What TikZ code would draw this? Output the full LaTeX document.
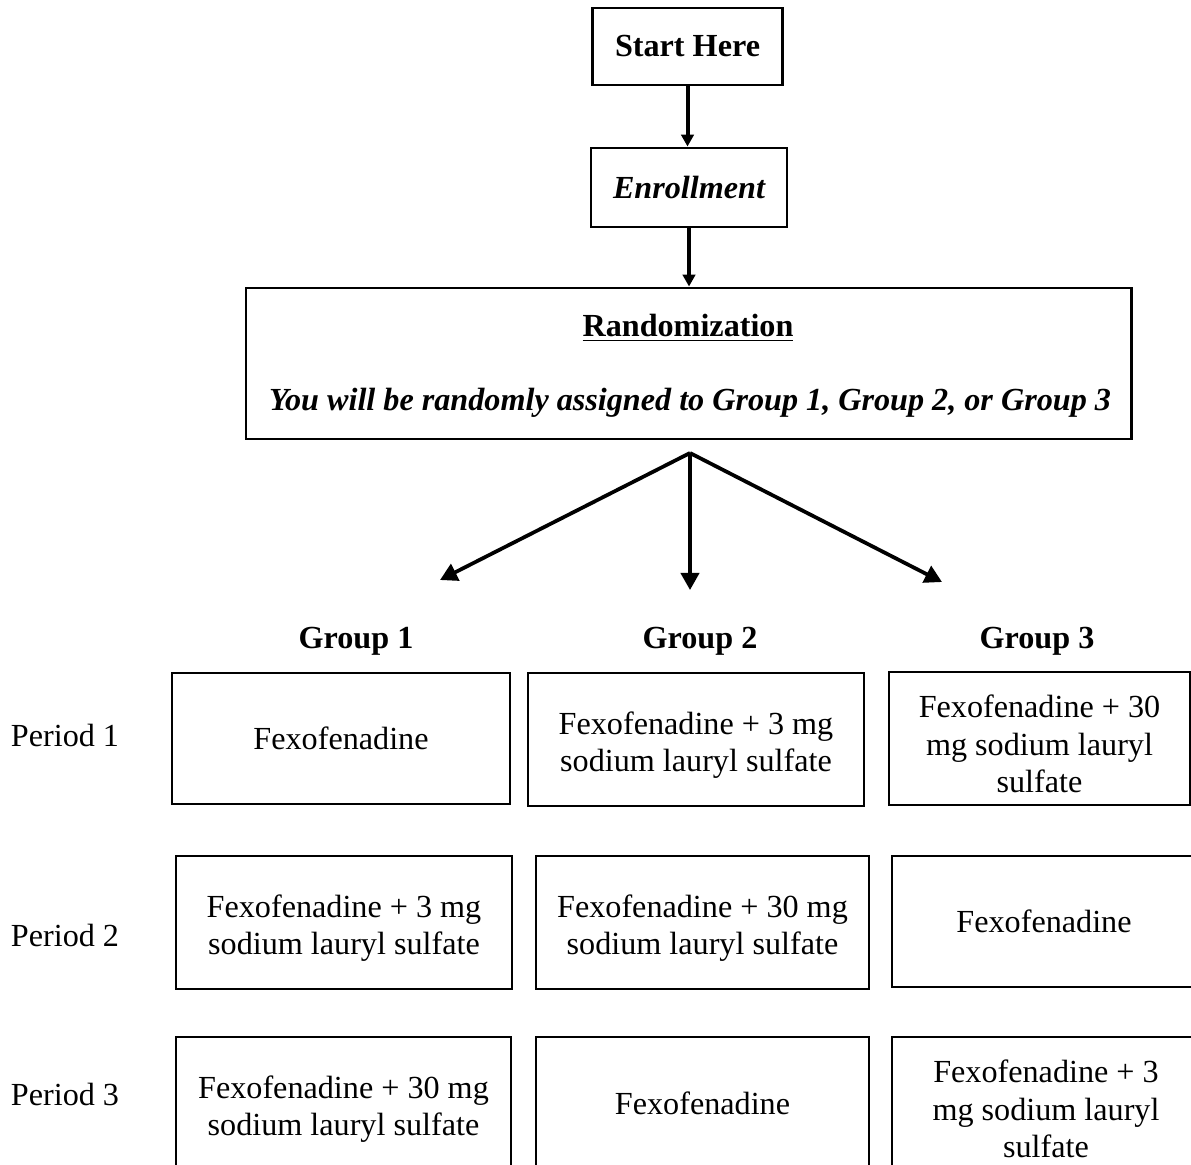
\documentclass[tikz,border=0pt]{standalone}
\usepackage{fontspec}
\setmainfont{Liberation Serif}
\usepackage{tikz}
\usetikzlibrary{arrows.meta}
\def\px{0.373pt}
\def\sz{\fontsize{12}{14}\selectfont}
\def\lowstrut{\rule{0pt}{12.6pt}}
\tikzset{>={Triangle[width=4.6pt,length=4.4pt]},
box/.style={draw, line width=1.1pt, align=center, inner sep=0pt},
arm/.style={->, line width=1.4pt, >={Triangle[width=6.8pt,length=6.4pt]}},
down/.style={->, line width=1.5pt},
lbl/.style={inner sep=0pt, font=\sz\bfseries}}

\begin{document}
\begin{tikzpicture}[x=\px,y=-\px,font=\sz]
\useasboundingbox (0,0) rectangle (1191,1164);
% top of the chart
\node[box, minimum width=190*\px, minimum height=77*\px, font=\sz\bfseries] (start) at (687.5,46.5) {Start Here};
\node[box, minimum width=196*\px, minimum height=79*\px, font=\sz\bfseries\itshape] (enroll) at (689,187.5) {Enrollment};
\node[box, minimum width=885*\px, minimum height=151*\px] (rand) at (688.5,363.5) {};
\node[lbl] (randt) at (688,328) {\underline{Randomization}};
\node[lbl, font=\sz\bfseries\itshape] (randi) at (690,403) {You will be randomly assigned to Group 1, Group 2, or Group 3};
\draw[down] (start.south) -- (start.south |- enroll.north);
\draw[down] (enroll.south) -- (enroll.south |- rand.north);
\coordinate (fork) at (690,453);
\coordinate (t1) at (440,580);
\coordinate (t2) at (690,590);
\coordinate (t3) at (942,582);
\draw[arm] (fork) -- (t1);
\draw[arm] (fork) -- (t2);
\draw[arm] (fork) -- (t3);
% groups
\node[lbl] (g1) at (356,641) {Group 1};
\node[lbl] (g2) at (700,641) {Group 2};
\node[lbl] (g3) at (1037,641) {Group 3};
\node[inner sep=0pt] (p1) at (65,735) {Period 1};
\node[inner sep=0pt] (p2) at (65,935) {Period 2};
\node[inner sep=0pt] (p3) at (65,1094) {Period 3};
% period 1
\node[box, minimum width=338*\px, minimum height=131*\px] (a1) at (341,738.5) {Fexofenadine};
\node[box, minimum width=336*\px, minimum height=133*\px] (b1) at (696,739.5) {\lowstrut Fexofenadine + 3 mg\\sodium lauryl sulfate};
\node[box, minimum width=301*\px, minimum height=133*\px] (c1) at (1039.5,738.5) {\lowstrut Fexofenadine + 30\\mg sodium lauryl\\sulfate};
% period 2
\node[box, minimum width=336*\px, minimum height=133*\px] (a2) at (344,922.5) {\lowstrut Fexofenadine + 3 mg\\sodium lauryl sulfate};
\node[box, minimum width=333*\px, minimum height=133*\px] (b2) at (702.5,922.5) {\lowstrut Fexofenadine + 30 mg\\sodium lauryl sulfate};
\node[box, minimum width=304*\px, minimum height=131*\px] (c2) at (1044,921.5) {Fexofenadine};
% period 3
\node[box, minimum width=335*\px, minimum height=133*\px] (a3) at (343.5,1103.5) {\lowstrut Fexofenadine + 30 mg\\sodium lauryl sulfate};
\node[box, minimum width=333*\px, minimum height=133*\px] (b3) at (702.5,1103.5) {Fexofenadine};
\node[box, minimum width=308*\px, minimum height=133*\px] (c3) at (1046,1103.5) {\lowstrut Fexofenadine + 3\\mg sodium lauryl\\sulfate};
\end{tikzpicture}
\end{document}
